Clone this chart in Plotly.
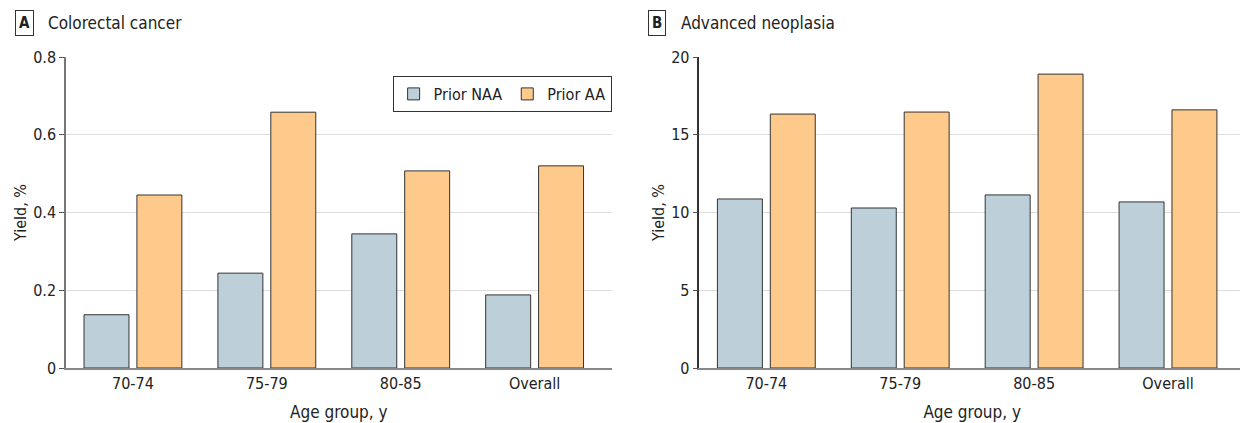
import plotly.graph_objects as go

categories = ["70-74", "75-79", "80-85", "Overall"]
crc_naa = [0.137, 0.244, 0.345, 0.188]
crc_aa = [0.445, 0.658, 0.507, 0.520]
an_naa = [10.87, 10.29, 11.13, 10.68]
an_aa = [16.33, 16.46, 18.90, 16.60]
series_names = ["Prior NAA", "Prior AA"]
colors = ["#BDD0D9", "#FDCA8B"]

FONT = "DejaVu Sans Condensed, Roboto, Arial"
OFF = 8  # page body margin

fig = go.Figure()
for i, (vals, name) in enumerate([(crc_naa, series_names[0]), (crc_aa, series_names[1])]):
    fig.add_trace(go.Bar(x=categories, y=vals, name=name, marker=dict(color=colors[i], line=dict(color="#333333", width=1)),
                         xaxis="x", yaxis="y", showlegend=True))
for i, (vals, name) in enumerate([(an_naa, series_names[0]), (an_aa, series_names[1])]):
    fig.add_trace(go.Bar(x=categories, y=vals, name=name, marker=dict(color=colors[i], line=dict(color="#333333", width=1)),
                         xaxis="x2", yaxis="y2", showlegend=False))

FW, FH = 1248, 423
L = 63 - OFF
RIGHT = 1245 - OFF
R = FW - RIGHT
W = FW - L - R
TOP, BOT = 57 - OFF, 368 - OFF

def px(x):
    return (x - OFF - L) / W

def py(y):
    return (BOT - (y - OFF)) / (BOT - TOP)

common_x = dict(range=[-0.5, 3.575], showline=True, linecolor="#888888", linewidth=1.5, ticks="",
                tickfont=dict(size=16, color="#222"), showgrid=False, fixedrange=True,
                title=dict(text="Age group, y", font=dict(size=17, color="#222"), standoff=14))
fig.update_layout(
    width=FW, height=FH,
    margin=dict(l=L, r=R, t=TOP, b=FH - BOT),
    paper_bgcolor="white", plot_bgcolor="white",
    font=dict(family=FONT, color="#222"),
    barmode="group", bargap=0.21, bargroupgap=0.15,
    xaxis=dict(domain=[0, px(610)], anchor="y", **common_x),
    xaxis2=dict(domain=[px(698), 1], anchor="y2", **common_x),
    yaxis=dict(range=[0, 0.8], tickvals=[0, 0.2, 0.4, 0.6, 0.8], ticktext=["0", "0.2", "0.4", "0.6", "0.8"],
               showline=True, linecolor="#777777", linewidth=1.5, ticks="outside", ticklen=5, tickcolor="#555",
               gridcolor="#DDDDDD", gridwidth=1, zeroline=False, tickfont=dict(size=16, color="#222"),
               title=dict(text="Yield, %", font=dict(size=16, color="#222"), standoff=3), anchor="x"),
    yaxis2=dict(range=[0, 20], tickvals=[0, 5, 10, 15, 20],
                showline=True, linecolor="#333333", linewidth=1.5, ticks="outside", ticklen=5, tickcolor="#555",
                gridcolor="#DDDDDD", gridwidth=1, zeroline=False, tickfont=dict(size=16, color="#222"),
                title=dict(text="Yield, %", font=dict(size=16, color="#222"), standoff=3), anchor="x2"),
    legend=dict(orientation="h", x=px(610), xanchor="right", y=py(76), yanchor="top",
                bordercolor="#333", borderwidth=1, bgcolor="white", font=dict(size=16, color="#222"),
                itemwidth=30, traceorder="normal"),
)

for letter, text, xl, xt in [("A", "Colorectal cancer", 12, 43), ("B", "Advanced neoplasia", 646, 678)]:
    fig.add_annotation(text="<b>" + letter + "</b>", x=px(xl), y=py(23), xref="paper", yref="paper",
                       xanchor="left", yanchor="middle", showarrow=False, font=dict(size=15, color="#222"),
                       bordercolor="#333", borderwidth=1, borderpad=3)
    fig.add_annotation(text=text, x=px(xt), y=py(23), xref="paper", yref="paper",
                       xanchor="left", yanchor="middle", showarrow=False, font=dict(size=17, color="#222"))

fig.write_html("out.html")
